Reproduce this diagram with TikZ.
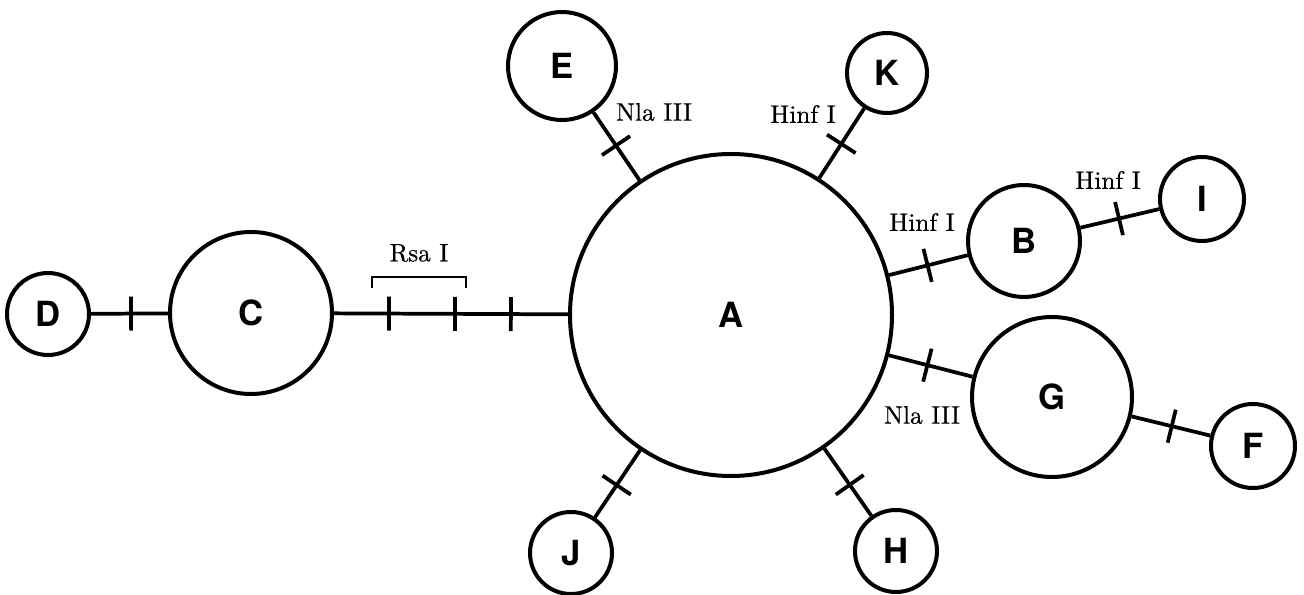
\documentclass[tikz,border=0pt]{standalone}
\usepackage{fontspec}
\newfontfamily\heros{TeX Gyre Heros}
\newfontfamily\sitefont[FakeBold=0.5]{lmroman10-regular.otf}
\usepackage{tikz}
\usetikzlibrary{decorations.markings}
\tikzset{every picture/.style={line width=0.75pt}}
% one restriction site on a branch
\newcommand{\snip}{\draw[line width=2.8pt] (0,-17) -- (0,17);}

\begin{document}
\begin{tikzpicture}[x=0.75pt,y=0.75pt,yscale=-1,
  hap/.style={circle, draw, line width=3pt, inner sep=0pt, minimum size=#1,
    font=\heros\bfseries\fontsize{26}{26}\selectfont},
  link/.style={line width=2.8pt},
  cut/.style={postaction={decorate},
    decoration={markings, mark=at position #1 with {\snip}}},
  site/.style={font=\sitefont\fontsize{19}{19}\selectfont}]
\useasboundingbox (0,0) rectangle (1304,595);

%haplotypes
\node[hap=241.5pt] (A) at (731,315) {A};
\node[hap=121.5pt] (C) at (251,313) {C};
\node[hap=61.5pt]  (D) at (48,314)  {D};
\node[hap=81pt]    (E) at (562,66)  {E};
\node[hap=60pt]    (K) at (887,73)  {K};
\node[hap=84pt]    (B) at (1024,241) {B};
\node[hap=63pt]    (I) at (1202,199) {I};
\node[hap=120pt]   (G) at (1052,397) {G};
\node[hap=63pt]    (F) at (1253,446) {F};
\node[hap=61.5pt]  (J) at (571,553) {J};
\node[hap=61.5pt]  (H) at (896,551) {H};

%branches
\draw[link, cut=0.52] (D) -- (C);
\draw[link, postaction={decorate}, decoration={markings,
    mark=at position 0.235 with {\snip},
    mark=at position 0.517 with {\snip},
    mark=at position 0.756 with {\snip}}] (C) -- (A);
\draw[link, cut=0.51] (A) -- (E);
\draw[link, cut=0.49] (A) -- (K);
\draw[link, cut=0.49] (A) -- (B);
\draw[link, cut=0.49] (B) -- (I);
\draw[link, cut=0.46] (A) -- (G);
\draw[link, cut=0.51] (G) -- (F);
\draw[link, cut=0.52] (A) -- (J);
\draw[link, cut=0.54] (A) -- (H);

%Rsa I bracket
\draw[line width=1.5pt] (372,288) -- (372,277) -- (466,277) -- (466,288);

%enzyme labels
\node[site] (rsa) at (419,253) {Rsa I};
\node[site] (nlaE) at (654,112) {Nla III};
\node[site] (hinfK) at (803,114) {Hinf I};
\node[site] (hinfB) at (922,222) {Hinf I};
\node[site] (hinfI) at (1108,180) {Hinf I};
\node[site] (nlaG) at (922,415) {Nla III};
\end{tikzpicture}
\end{document}
